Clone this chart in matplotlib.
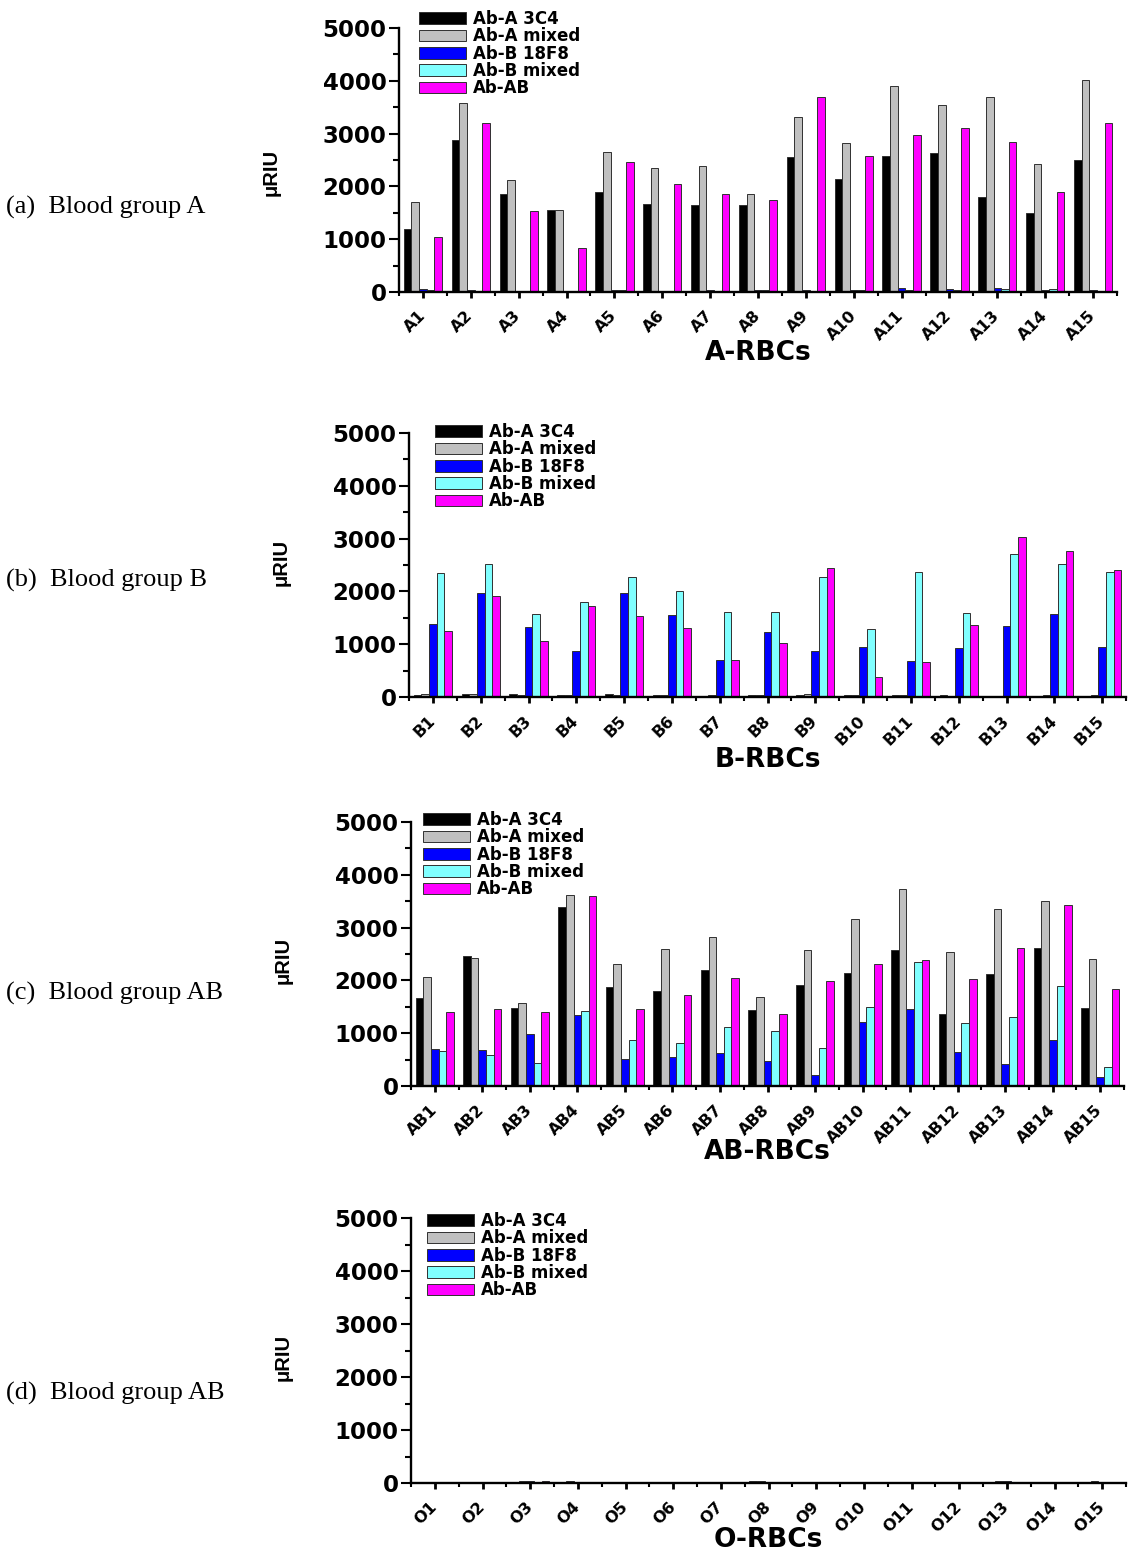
import matplotlib
matplotlib.use("Agg")
import matplotlib.pyplot as plt
import numpy as np

W, H = 1128, 1551
DPI = 100

series = ["Ab-A 3C4", "Ab-A mixed", "Ab-B 18F8", "Ab-B mixed", "Ab-AB"]
colors = ["#000000", "#C0C0C0", "#0000FF", "#80FFFF", "#FF00FF"]

cats_a = [f"A{i}" for i in range(1, 16)]
cats_b = [f"B{i}" for i in range(1, 16)]
cats_ab = [f"AB{i}" for i in range(1, 16)]
cats_o = [f"O{i}" for i in range(1, 16)]

# Panel (a) A-RBCs
a_3c4   = [1200, 2870, 1865, 1555, 1885, 1675, 1650, 1650, 2565, 2145, 2585, 2635, 1795, 1500, 2505]
a_amix  = [1710, 3580, 2120, 1550, 2650, 2345, 2390, 1860, 3310, 2820, 3905, 3545, 3695, 2430, 4010]
a_18f8  = [50, 30, 25, 25, 45, 25, 45, 45, 45, 45, 70, 50, 70, 40, 45]
a_bmix  = [40, 20, 25, 25, 30, 20, 25, 40, 25, 40, 40, 45, 50, 55, 25]
a_ab    = [1050, 3205, 1540, 840, 2465, 2045, 1860, 1745, 3695, 2580, 2965, 3110, 2845, 1885, 3205]

# Panel (b) B-RBCs
b_3c4   = [30, 55, 50, 30, 55, 30, 25, 40, 30, 30, 40, 40, 12, 25, 20]
b_amix  = [55, 55, 40, 40, 45, 30, 40, 40, 55, 30, 40, 25, 12, 40, 40]
b_18f8  = [1390, 1965, 1330, 875, 1970, 1555, 705, 1230, 875, 950, 685, 930, 1340, 1570, 940]
b_bmix  = [2345, 2515, 1570, 1795, 2280, 2015, 1610, 1605, 2280, 1290, 2360, 1600, 2715, 2515, 2360]
b_ab    = [1255, 1910, 1065, 1715, 1530, 1305, 705, 1020, 2440, 370, 660, 1365, 3025, 2760, 2405]

# Panel (c) AB-RBCs
ab_3c4  = [1670, 2460, 1480, 3395, 1870, 1795, 2190, 1440, 1910, 2140, 2575, 1365, 2120, 2615, 1480]
ab_amix = [2065, 2420, 1580, 3625, 2310, 2590, 2825, 1680, 2575, 3155, 3740, 2530, 3355, 3510, 2410]
ab_18f8 = [705, 680, 980, 1350, 505, 555, 625, 480, 215, 1210, 1465, 650, 420, 865, 175]
ab_bmix = [655, 580, 435, 1425, 875, 810, 1115, 1040, 720, 1505, 2345, 1190, 1305, 1890, 355]
ab_ab   = [1405, 1455, 1400, 3590, 1465, 1720, 2040, 1360, 1995, 2315, 2385, 2020, 2605, 3420, 1840]

# Panel (d) O-RBCs
o_3c4   = [5, 8, 25, 25, 5, 5, 5, 35, 25, 10, 10, 10, 20, 25, 25]
o_amix  = [5, 10, 35, 35, 5, 20, 5, 40, 25, 10, 20, 25, 35, 25, 30]
o_18f8  = [5, 8, 30, 10, 5, 5, 5, 25, 25, 10, 10, 10, 40, 25, 25]
o_bmix  = [5, 8, 25, 15, 5, 5, 5, 25, 25, 10, 10, 10, 20, 25, 25]
o_ab    = [5, 8, 35, 25, 5, 5, 5, 25, 25, 10, 10, 10, 20, 25, 25]

yticks = [0, 1000, 2000, 3000, 4000, 5000]

panels = [
    dict(cats=cats_a, data=[a_3c4, a_amix, a_18f8, a_bmix, a_ab], xlabel="A-RBCs",
         side="(a)  Blood group A", box=(399, 1117, 28, 292), side_y=207,
         leg=(419, 18), xl_y=353, yl_y=172),
    dict(cats=cats_b, data=[b_3c4, b_amix, b_18f8, b_bmix, b_ab], xlabel="B-RBCs",
         side="(b)  Blood group B", box=(409, 1126, 433, 697), side_y=580,
         leg=(435, 431), xl_y=760, yl_y=562),
    dict(cats=cats_ab, data=[ab_3c4, ab_amix, ab_18f8, ab_bmix, ab_ab], xlabel="AB-RBCs",
         side="(c)  Blood group AB", box=(411, 1124, 822, 1086), side_y=993,
         leg=(423, 819), xl_y=1152, yl_y=960),
    dict(cats=cats_o, data=[o_3c4, o_amix, o_18f8, o_bmix, o_ab], xlabel="O-RBCs",
         side="(d)  Blood group AB", box=(411, 1126, 1218, 1483), side_y=1393,
         leg=(427, 1220), xl_y=1540, yl_y=1357),
]

fig = plt.figure(figsize=(W / DPI, H / DPI), dpi=DPI)
wide = ["DejaVu Sans"]
sans = ["Liberation Sans", "DejaVu Sans"]
serif = ["Liberation Serif", "DejaVu Serif"]

bw = 0.16
for p in panels:
    x0, x1, y0, y1 = p["box"]
    ax = fig.add_axes([x0 / W, 1 - y1 / H, (x1 - x0) / W, (y1 - y0) / H])
    x = np.arange(1, 16)
    handles = []
    for k, (vals, c, lab) in enumerate(zip(p["data"], colors, series)):
        h = ax.bar(x + (k - 2) * bw, vals, width=bw, color=c, edgecolor="#303030",
                   linewidth=0.7, label=lab)
        handles.append(h)
    ax.set_xlim(0.5, 15.5)
    ax.set_ylim(0, 5000)
    ax.set_yticks(yticks)
    ax.set_yticks(np.arange(500, 5000, 1000), minor=True)
    ax.set_yticklabels([str(v) for v in yticks], fontsize=16.5, fontweight="bold", family=wide)
    ax.set_xticks(x)
    ax.set_xticks(np.arange(0.5, 16, 1.0), minor=True)
    ax.set_xticklabels(p["cats"], fontsize=11.5, fontweight="bold", family=wide,
                       rotation=45, ha="right", va="center", rotation_mode="anchor")
    for s in ["top", "right"]:
        ax.spines[s].set_visible(False)
    for s in ["left", "bottom"]:
        ax.spines[s].set_linewidth(1.7)
    ax.tick_params(axis="y", which="major", direction="out", length=7, width=1.5, pad=2)
    ax.tick_params(axis="y", which="minor", direction="out", length=4, width=1.5)
    ax.tick_params(axis="x", which="major", direction="out", length=4.5, width=2, pad=11)
    ax.tick_params(axis="x", which="minor", direction="out", length=3, width=1.5)
    lx, ly = p["leg"]
    ax.legend(handles=handles, loc="upper left", bbox_to_anchor=(lx / W, 1 - (ly - 8) / H),
              bbox_transform=fig.transFigure, frameon=False, borderpad=0, borderaxespad=0,
              handlelength=2.8, handleheight=0.72, labelspacing=-0.04, handletextpad=0.42,
              prop=dict(family=wide, weight="bold", size=12))
    fig.text((x0 + x1) / 2 / W, 1 - p["xl_y"] / H, p["xlabel"], ha="center", va="center",
             fontsize=19, fontweight="bold", family=wide)
    fig.text((x0 - 128) / W, 1 - p["yl_y"] / H, "μRIU", rotation=90, ha="center",
             va="center", fontsize=14.5, fontweight="bold", family=sans)
    fig.text(6 / W, 1 - p["side_y"] / H, p["side"], ha="left", va="center",
             fontsize=19, family=serif)

fig.savefig("out.png", dpi=DPI)
